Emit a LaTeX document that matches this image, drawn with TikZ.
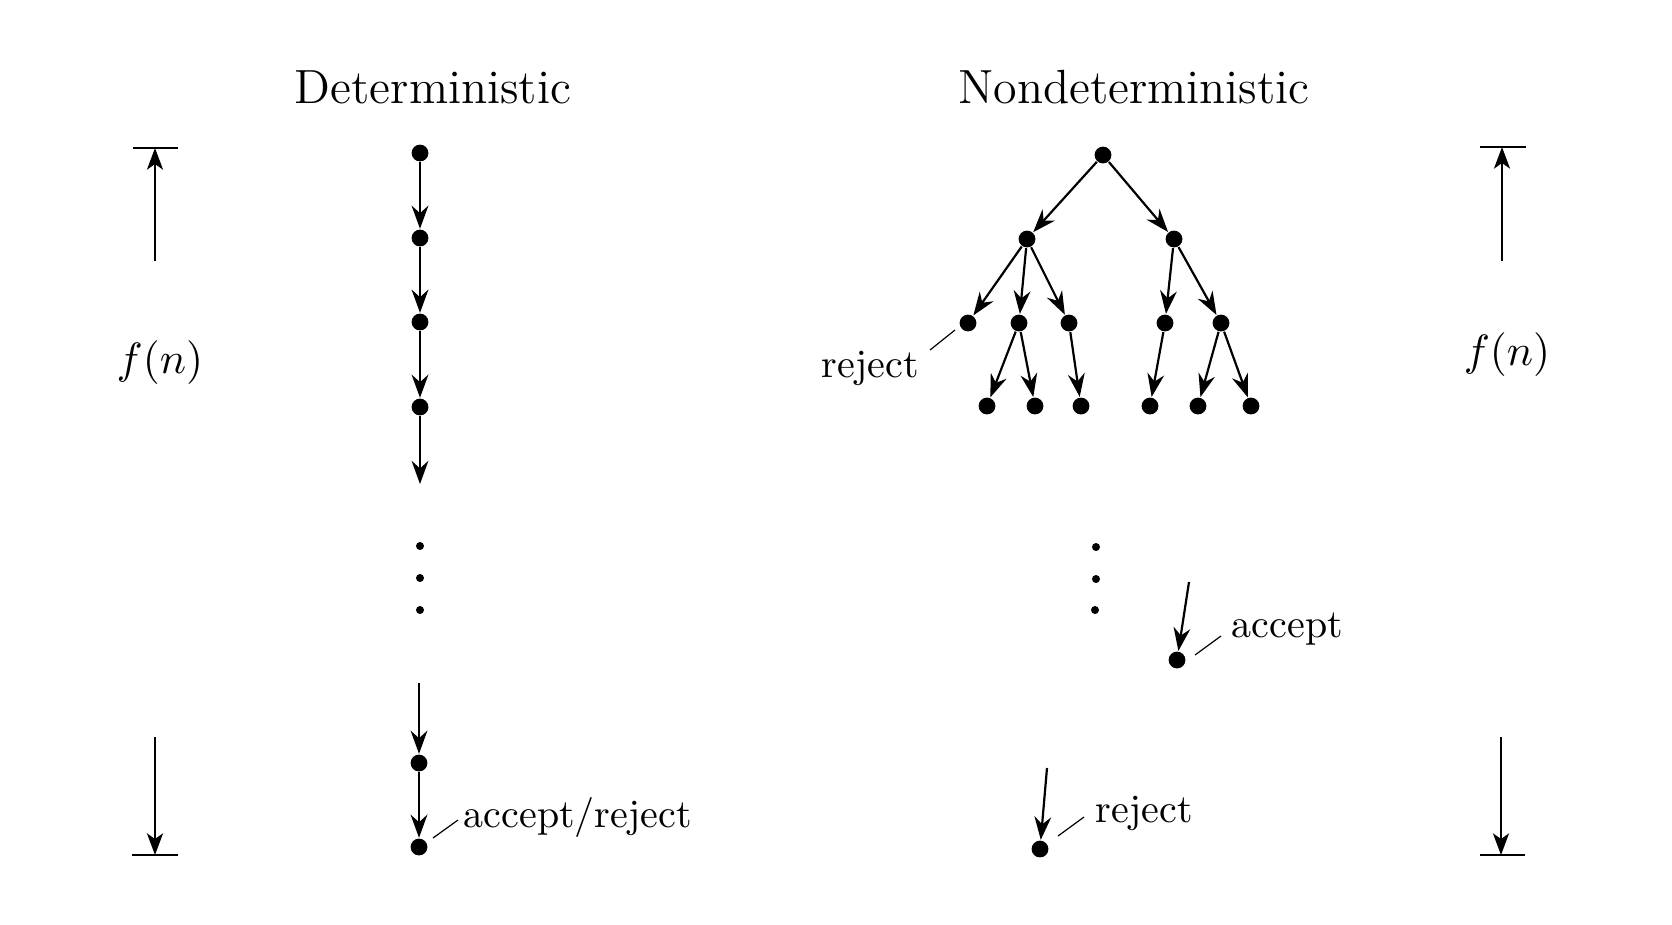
\documentclass[tikz,border=0pt]{standalone}
\usetikzlibrary{arrows.meta}
\begin{document}
\begin{tikzpicture}[x=0.25pt,y=-0.25pt,
  dot/.style={circle, fill=black, inner sep=0pt, minimum size=4.2pt},
  edot/.style={circle, fill=black, inner sep=0pt, minimum size=2pt},
  arr/.style={line width=0.55pt, -{Stealth[length=5.8pt,width=4.2pt,inset=1.9pt]}},
  dimarr/.style={line width=0.6pt, -{Stealth[length=5.4pt,width=4pt,inset=1.4pt]}},
  bar/.style={line width=0.6pt},
  leader/.style={line width=0.3pt},
  lbl/.style={font=\fontsize{10}{12}\selectfont, inner sep=0pt, anchor=base west},
  ttl/.style={font=\fontsize{12}{14}\selectfont, inner sep=0pt, anchor=base},
  fn/.style={font=\fontsize{11}{13}\selectfont, inner sep=0pt}]
\fill[white] (0,0) rectangle (1672,924);
\useasboundingbox (0,0) rectangle (1672,924);

% titles
\node[ttl] (tdet) at (433,103) {Deterministic};
\node[ttl] (tnon) at (1134,103) {Nondeterministic};

% left dimension
\coordinate (lbt1) at (133,148); \coordinate (lbt2) at (178,148);
\coordinate (lbb1) at (132,855); \coordinate (lbb2) at (178,855);
\coordinate (lat0) at (155,261); \coordinate (lat1) at (155,148);
\coordinate (lab0) at (155,737); \coordinate (lab1) at (155,855);
\draw[bar] (lbt1) -- (lbt2);
\draw[bar] (lbb1) -- (lbb2);
\draw[dimarr] (lat0) -- (lat1);
\draw[dimarr] (lab0) -- (lab1);
\node[fn] (fnl) at (160,363) {$f(n)$};

% right dimension
\coordinate (rbt1) at (1480,147); \coordinate (rbt2) at (1526,147);
\coordinate (rbb1) at (1480,855); \coordinate (rbb2) at (1525,855);
\coordinate (rat0) at (1502,261); \coordinate (rat1) at (1502,147);
\coordinate (rab0) at (1501,737); \coordinate (rab1) at (1501,855);
\draw[bar] (rbt1) -- (rbt2);
\draw[bar] (rbb1) -- (rbb2);
\draw[dimarr] (rat0) -- (rat1);
\draw[dimarr] (rab0) -- (rab1);
\node[fn] (fnr) at (1507,355) {$f(n)$};

% deterministic chain
\node[dot] (d1) at (420,153) {};
\node[dot] (d2) at (420,238) {};
\node[dot] (d3) at (420,322) {};
\node[dot] (d4) at (420,407) {};
\coordinate (dend) at (420,484);
\node[edot] (de1) at (420,546) {};
\node[edot] (de2) at (420,578) {};
\node[edot] (de3) at (420,610) {};
\coordinate (dstart) at (419,683);
\node[dot] (d5) at (419,763) {};
\node[dot] (d6) at (419,847) {};
\draw[arr] (d1) -- (d2);
\draw[arr] (d2) -- (d3);
\draw[arr] (d3) -- (d4);
\draw[arr] (d4) -- (dend);
\draw[arr] (dstart) -- (d5);
\draw[arr] (d5) -- (d6);
\node[lbl] (lar) at (463,827) {accept/reject};
\coordinate (ld0) at (433,838); \coordinate (ld1) at (458,820);
\draw[leader] (ld0) -- (ld1);

% nondeterministic tree
\node[dot] (r) at (1103,155) {};
\node[dot] (nl) at (1027,239) {};
\node[dot] (nr) at (1174,239) {};
\node[dot] (a) at (968,323) {};
\node[dot] (b) at (1019,323) {};
\node[dot] (c) at (1069,323) {};
\node[dot] (d) at (1165,323) {};
\node[dot] (e) at (1221,323) {};
\node[dot] (f) at (987,406) {};
\node[dot] (g) at (1035,406) {};
\node[dot] (h) at (1081,406) {};
\node[dot] (i) at (1150,406) {};
\node[dot] (j) at (1198,406) {};
\node[dot] (k) at (1251,406) {};
\draw[arr] (r) -- (nl);
\draw[arr] (r) -- (nr);
\draw[arr] (nl) -- (a);
\draw[arr] (nl) -- (b);
\draw[arr] (nl) -- (c);
\draw[arr] (nr) -- (d);
\draw[arr] (nr) -- (e);
\draw[arr] (b) -- (f);
\draw[arr] (b) -- (g);
\draw[arr] (c) -- (h);
\draw[arr] (d) -- (i);
\draw[arr] (e) -- (j);
\draw[arr] (e) -- (k);
\node[lbl] (lrj1) at (821,377) {reject};
\coordinate (lr0) at (930,350); \coordinate (lr1) at (955,330);
\draw[leader] (lr0) -- (lr1);

\node[edot] (ne1) at (1096,547) {};
\node[edot] (ne2) at (1096,579) {};
\node[edot] (ne3) at (1095,610) {};

\coordinate (acs) at (1189,582);
\node[dot] (acc) at (1177,660) {};
\draw[arr] (acs) -- (acc);
\node[lbl] (lacc) at (1231,637) {accept};
\coordinate (la0) at (1195,655); \coordinate (la1) at (1221,636);
\draw[leader] (la0) -- (la1);

\coordinate (rjs) at (1047,768);
\node[dot] (rj) at (1040,849) {};
\draw[arr] (rjs) -- (rj);
\node[lbl] (lrj2) at (1095,822) {reject};
\coordinate (lb0) at (1058,836); \coordinate (lb1) at (1084,817);
\draw[leader] (lb0) -- (lb1);
\end{tikzpicture}
\end{document}
